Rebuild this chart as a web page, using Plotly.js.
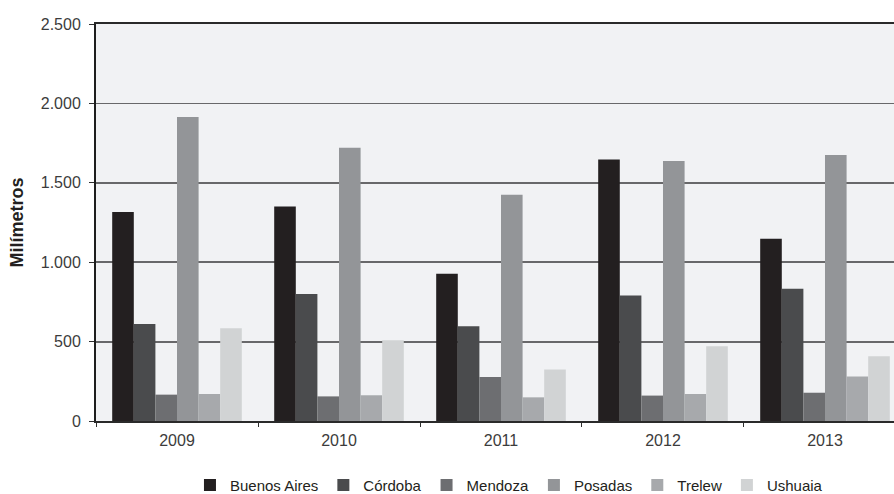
<!DOCTYPE html>
<html>
<head>
<meta charset="utf-8">
<script src="https://cdn.plot.ly/plotly-3.0.1.min.js"></script>
<style>html,body{margin:0;padding:0;background:#fff;}#chart{width:894px;height:494px;}</style>
</head>
<body>
<div id="chart"></div>
<script>
const years = ["2009", "2010", "2011", "2012", "2013"];
const cities = ["Buenos Aires", "Córdoba", "Mendoza", "Posadas", "Trelew", "Ushuaia"];
const buenosAires = [1316, 1350, 928, 1646, 1148];
const cordoba = [611, 800, 596, 791, 833];
const mendoza = [166, 155, 277, 160, 178];
const posadas = [1914, 1721, 1425, 1637, 1675];
const trelew = [170, 162, 149, 170, 281];
const ushuaia = [584, 508, 325, 470, 407];
const colors = ["#231f20", "#4a4b4d", "#6d6e71", "#939598", "#a7a9ac", "#d1d3d4"];
const yTicks = [0, 500, 1000, 1500, 2000, 2500];

const series = [buenosAires, cordoba, mendoza, posadas, trelew, ushuaia];
const FONT = "Liberation Sans, Arial, sans-serif";

const traces = series.map((vals, i) => ({
  type: "bar",
  name: cities[i],
  x: years,
  y: vals,
  marker: {color: colors[i], line: {width: 0}},
  hoverinfo: "x+y+name"
}));

const layout = {
  width: 894,
  height: 494,
  margin: {l: 96, r: 0, t: 24, b: 73, pad: 0, autoexpand: false},
  paper_bgcolor: "#ffffff",
  plot_bgcolor: "#f1f2f4",
  separators: ",.",
  barmode: "group",
  bargap: 0.2,
  bargroupgap: 0,
  font: {family: FONT, size: 16, color: "#3c3c3c"},
  xaxis: {
    type: "category",
    range: [-0.5, 4.426],
    showline: true,
    mirror: true,
    linecolor: "#2a2a2a",
    linewidth: 2,
    ticks: "outside",
    tickson: "boundaries",
    ticklen: 4,
    tickcolor: "#2e2e2e",
    tickwidth: 1,
    ticklabelstandoff: 4,
    showgrid: false,
    tickfont: {family: FONT, size: 16, color: "#3c3c3c"},
    fixedrange: true
  },
  yaxis: {
    range: [0, 2500],
    tickvals: yTicks,
    tickformat: ",d",
    showline: true,
    linecolor: "#1e1e1e",
    linewidth: 2,
    ticks: "outside",
    ticklen: 5,
    tickcolor: "#2e2e2e",
    tickwidth: 1,
    ticklabelstandoff: 5,
    showgrid: true,
    gridcolor: "#68686a",
    gridwidth: 1.8,
    zeroline: false,
    tickfont: {family: FONT, size: 16, color: "#3c3c3c"},
    title: {text: "<b>Milímetros</b>", font: {family: FONT, size: 18, color: "#231f20"}, standoff: 12},
    fixedrange: true
  },
  showlegend: true,
  legend: {
    orientation: "h",
    x: 0.5175,
    xanchor: "center",
    y: -0.162,
    yanchor: "middle",
    font: {family: FONT, size: 15, color: "#231f20"},
    itemwidth: 30,
    traceorder: "normal"
  }
};

Plotly.newPlot("chart", traces, layout, {displayModeBar: false, staticPlot: true});
</script>
</body>
</html>
